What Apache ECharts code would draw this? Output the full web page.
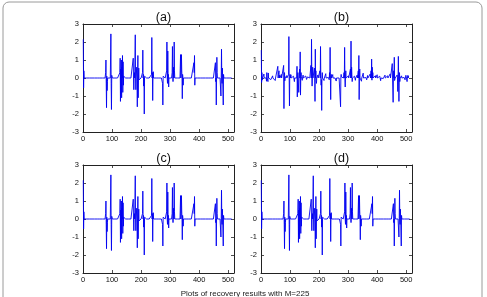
<!DOCTYPE html>
<html>
<head>
<meta charset="utf-8">
<script src="https://cdn.jsdelivr.net/npm/echarts@6/dist/echarts.min.js"></script>
<style>
  html, body { margin: 0; padding: 0; background: #fff; }
  #main { width: 487px; height: 297px; }
</style>
</head>
<body>
<div id="main"></div>
<script>
// signal length and axis ticks
const signalLength = 512;
const xTicks = [0, 100, 200, 300, 400, 500];
const yTicks = [-3, -2, -1, 0, 1, 2, 3];
const panelTitles = ["(a)", "(b)", "(c)", "(d)"];
const caption = "Plots of recovery results with M=225";

// original block-sparse signal, [index, value]
const originalSpikes = [
  [1, 2.15], [2, -0.55], [3, 0.4],
  [78, 0.3], [79, 1.0], [80, -0.3], [81, -1.65], [82, 0.1], [83, -0.7], [84, -0.2],
  [95, 0.1], [96, 2.45], [97, -0.3], [98, -1.75], [99, 0.15], [100, 0.1],
  [127, 0.3], [128, 1.1], [129, -1.3], [130, 0.5], [131, -0.9], [132, 1.0], [133, -1.1],
  [134, 0.6], [136, 1.25], [137, -0.8], [138, 0.9], [139, -0.4], [140, 0.1],
  [173, 1.1], [175, -0.65], [177, 0.3], [180, 2.4], [182, -0.65], [185, 0.6], [187, -1.6],
  [189, 1.25], [190, -1.1], [192, 0.55], [193, -0.1],
  [205, 0.3], [206, 1.55], [208, 0.2], [209, -0.45], [211, -2.0], [212, 0.1],
  [236, 0.2], [237, 2.25], [239, 0.3], [240, -1.25], [242, 0.35],
  [274, -0.3], [275, -1.5], [276, 0.1],
  [288, 0.4], [289, 2.0], [291, -0.3], [292, 1.5], [294, 0.2], [295, -0.5],
  [307, 0.3], [308, 1.75], [310, -0.2], [312, 0.6], [314, 2.0], [315, 0.4],
  [336, 1.3], [338, 0.3], [339, 1.3], [340, 0.45], [342, -1.15], [343, 0.2], [345, -0.4],
  [382, 0.85], [383, 0.3], [384, 1.25], [385, -0.4],
  [456, 0.85], [457, -0.2], [459, -1.5], [461, 1.15], [462, 0.3],
  [475, -1.0], [477, 1.6], [479, -0.3], [480, 0.55], [483, -1.5], [484, 0.2]
];

// recovery (b): spikes plus small noise
const recoveryBSpikes = [
  [1, 1.55], [2, -0.25], [3, 0.3],
  [20, 0.3], [24, -0.2],
  [58, 0.65], [60, 0.2], [62, 0.4], [64, 0.15],
  [78, 0.7], [79, -1.7], [81, 0.3],
  [95, 0.2], [96, 2.3], [98, -1.55], [100, 0.2],
  [124, 0.65], [125, -1.05], [127, 0.3], [130, -0.8], [133, 0.5], [135, 1.45], [136, -0.95], [138, 0.3],
  [172, 0.7], [174, 2.15], [176, -0.45], [178, 0.6], [184, 0.55], [186, -1.3], [187, 1.6], [189, 0.4], [191, -0.3],
  [203, 0.4], [205, 1.75], [207, -0.4], [209, -1.8], [211, 0.3],
  [236, 0.3], [238, 1.7], [240, -1.2], [242, 0.2],
  [274, -1.6], [276, 0.2],
  [286, 0.3], [288, 1.7], [290, -0.5], [292, 0.4],
  [308, 0.5], [310, 2.05], [312, 0.6], [314, -0.2],
  [335, 0.4], [337, 1.25], [338, -1.2], [340, 0.5],
  [379, 0.4], [381, 1.05], [383, 0.6], [385, 0.3],
  [452, 0.8], [455, -1.35], [457, 0.4], [459, 1.15], [461, -0.2],
  [471, -0.75], [473, 1.2], [475, -1.3], [477, 0.3],
  [500, 0.2], [503, -0.2], [506, 0.15]
];
// noise of (b), one value every 3rd index starting at 1
const recoveryBNoise = [
  0.05,-0.12,0.08,0.22,-0.06,0.03,-0.18,0.1,0.28,-0.04,0.06,-0.09,0.02,0.12,-0.03,0.07,-0.14,0.04,0.09,-0.05,
  0.15,-0.08,0.03,0.2,0.11,-0.02,0.06,-0.16,0.04,0.13,-0.07,0.09,0.02,-0.11,0.18,0.05,-0.04,0.1,-0.2,0.07,
  0.03,0.12,-0.06,0.25,-0.1,0.04,0.08,-0.13,0.16,0.02,-0.05,0.11,-0.08,0.06,0.14,-0.03,0.09,-0.12,0.05,0.21,
  -0.07,0.04,0.1,-0.15,0.03,0.17,-0.04,0.08,0.12,-0.09,0.06,0.02,-0.14,0.1,0.24,-0.05,0.07,0.03,-0.1,0.13,
  0.04,-0.06,0.19,0.08,-0.03,0.11,-0.17,0.05,0.09,0.02,-0.08,0.15,0.06,-0.04,0.1,0.26,-0.11,0.03,0.07,-0.05,
  0.12,0.04,-0.09,0.08,0.2,-0.03,0.06,0.1,-0.13,0.05,0.16,0.02,-0.07,0.09,0.04,-0.18,0.11,0.27,-0.06,0.08,
  0.03,-0.1,0.14,0.05,-0.04,0.22,0.07,-0.12,0.09,0.02,-0.06,0.13,0.04,0.18,-0.08,0.06,0.1,-0.15,0.05,0.11,
  -0.03,0.08,0.16,-0.09,0.04,0.12,-0.05,0.07,0.23,-0.11,0.03,0.09,0.05,-0.14,0.1,0.02,0.17,-0.06,0.08,-0.2,
  0.06,0.12,-0.04,0.09,0.03,-0.1,0.15,0.05,-0.07,0.11
];

function buildSignal(spikes, noise) {
  let arr = new Array(signalLength).fill(0);
  if (noise) {
    noise.forEach((v, k) => {
      let i = 1 + k * 3;
      if (i <= signalLength) arr[i - 1] = v;
    });
  }
  spikes.forEach(([i, v]) => { arr[i - 1] = v; });
  return arr.map((v, k) => [k + 1, v]);
}

const panelData = [
  buildSignal(originalSpikes),
  buildSignal(recoveryBSpikes, recoveryBNoise),
  buildSignal(originalSpikes),
  buildSignal(originalSpikes)
];

const gridBoxes = [
  { left: 83, top: 24 }, { left: 261, top: 24 },
  { left: 83, top: 165 }, { left: 261, top: 165 }
];
const boxW = 151, boxH = 108;
const fontFam = "'Liberation Sans', Arial, sans-serif";
const lineCol = "#222";

let myChart = echarts.init(document.getElementById("main"), null, { renderer: "canvas" });

let grids = [], xAxes = [], yAxes = [], series = [], titles = [];
gridBoxes.forEach((g, n) => {
  grids.push({ left: g.left, top: g.top, width: boxW, height: boxH, containLabel: false });
  const tickCommon = { show: true, inside: true, length: 3, lineStyle: { color: lineCol, width: 0.8 } };
  const lineCommon = { show: true, onZero: false, lineStyle: { color: lineCol, width: 1 } };
  xAxes.push({
    gridIndex: n, type: "value", position: "bottom", min: 0, max: 520, interval: 100,
    axisLine: lineCommon, axisTick: tickCommon, splitLine: { show: false },
    axisLabel: {
      fontSize: 7.5, color: "#111", fontFamily: fontFam, margin: 3,
      formatter: v => (xTicks.indexOf(v) >= 0 ? String(v) : "")
    }
  });
  xAxes.push({
    gridIndex: n, type: "value", position: "top", min: 0, max: 520, interval: 100,
    axisLine: lineCommon, axisTick: tickCommon, splitLine: { show: false },
    axisLabel: { show: false }
  });
  yAxes.push({
    gridIndex: n, type: "value", position: "left", min: -3, max: 3, interval: 1,
    axisLine: lineCommon, axisTick: tickCommon, splitLine: { show: false },
    axisLabel: {
      fontSize: 7.5, color: "#111", fontFamily: fontFam, margin: 4,
      formatter: v => (yTicks.indexOf(v) >= 0 ? String(v) : "")
    }
  });
  yAxes.push({
    gridIndex: n, type: "value", position: "right", min: -3, max: 3, interval: 1,
    axisLine: lineCommon, axisTick: tickCommon, splitLine: { show: false },
    axisLabel: { show: false }
  });
  series.push({
    type: "line", xAxisIndex: n * 2, yAxisIndex: n * 2, data: panelData[n],
    showSymbol: false, symbol: "none", silent: true,
    lineStyle: { color: "#0000f0", width: 0.9 }
  });
  titles.push({
    text: panelTitles[n], left: g.left + boxW / 2, top: g.top - 18, textAlign: "center",
    textStyle: { fontSize: 12.5, fontWeight: "normal", color: "#111", fontFamily: fontFam }
  });
});
titles.push({
  text: caption, left: 240, top: 285, textAlign: "center",
  textStyle: { fontSize: 8, fontWeight: "normal", color: "#222", fontFamily: fontFam }
});

let option = {
  animation: false,
  backgroundColor: "#fff",
  title: titles,
  grid: grids,
  xAxis: xAxes,
  yAxis: yAxes,
  series: series,
  graphic: [{
    type: "rect", silent: true,
    shape: { x: 3, y: 2, width: 479, height: 310, r: 6 },
    style: { fill: "none", stroke: "#9a9a9a", lineWidth: 1 }
  }]
};
myChart.setOption(option);
window.onresize = function() {
  myChart.resize();
};
</script>
</body>
</html>
